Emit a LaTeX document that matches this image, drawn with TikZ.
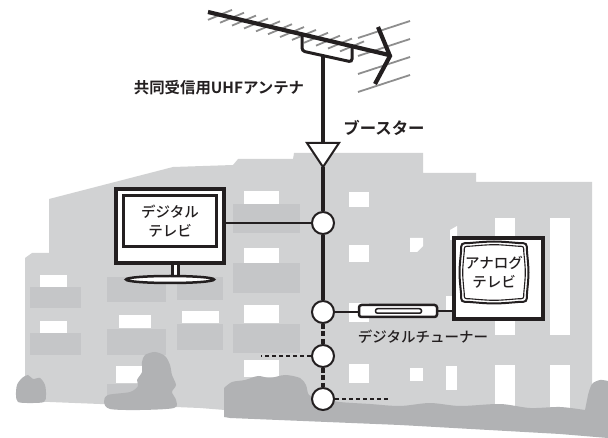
\documentclass[tikz,border=0pt]{standalone}
\usepackage{fontspec}
\newfontfamily\jp{Noto Sans CJK JP Medium}
\newfontfamily\jpb{Noto Sans CJK JP Bold}
\definecolor{ink}{HTML}{231F20}
\definecolor{bldg}{HTML}{D1D2D3}
\definecolor{balc}{HTML}{C5C6C8}
\definecolor{bush}{HTML}{B1B2B4}
\definecolor{rod}{HTML}{8E8E8E}

\begin{document}
\begin{tikzpicture}
  [x=1pt,y=-1pt,every node/.style={inner sep=0pt,text=ink},
   joint/.style={circle,draw=ink,fill=white,line width=2pt,minimum size=22pt},
   tvbox/.style={rectangle,draw=ink,fill=white,line width=3.6pt},
   screen/.style={rectangle,draw=ink,fill=white,line width=3pt,align=center,
     font=\jp\fontsize{14.5}{19}\selectfont},
   tunerbox/.style={rectangle,rounded corners=2.5pt,draw=ink,fill=white,line width=2.5pt},
   tag/.style={font=\jpb\fontsize{15.4}{17}\selectfont},
   caption/.style={font=\jp\fontsize{14.5}{19}\selectfont,align=center},
   cable/.style={draw=ink,line width=4.2pt},
   feeder/.style={draw=ink,line width=2.6pt},
   riser/.style={draw=ink,line width=3.8pt,dash pattern=on 5pt off 2.5pt},
   branch/.style={draw=ink,line width=2pt,dash pattern=on 4pt off 3pt},
   rodline/.style={draw=rod,line width=1.8pt}]
  \useasboundingbox (0,0) rectangle (608,438);

  % buildings
  \fill[bldg] (25,401) -- (25,258) -- (32,253) -- (49,253) -- (49,199) -- (173,167)
    -- (233,165) -- (238,159) -- (293,159) -- (294,153) -- (423,153) -- (423,173)
    -- (476,173) -- (476,182) -- (592,182) -- (592,432) -- (400,424) -- (200,408) -- cycle;
  \foreach \a/\b/\c/\d in {30/287/81/308,30/333/81/355,107/277/166/302,107/329/166/355,
      107/384/143/397,177/277/223/300,177/324/223/350,233/204/300/233,233/263/300/293,
      233/324/300/353}
    \fill[balc] (\a,\b) rectangle (\c,\d);
  \foreach \a/\b/\c/\d in {40/275/67/287,40/321/67/333,119/315/151/328,116/366/143/383,
      182/311/219/323,244/191/279/204,244/248/279/263,244/305/279/323,244/360/279/377,
      349/192/369/207,349/245/369/262,349/303/369/322,349/364/369/383,410/368/423/381,
      446/366/457/390,446/296/457/312,495/218/515/335,495/365/515/409,550/218/570/335,
      550/365/570/409}
    \fill[white] (\a,\b) rectangle (\c,\d);
  \fill[white] (410,238) -- (423,238) -- (423,246) -- (417,252) -- (410,252) -- cycle;
  \fill[white] (450,230) -- (457,226) -- (457,240) -- (450,240) -- cycle;

  % trees and hedge
  \fill[bush] plot[smooth cycle] coordinates {(16,395) (17,385) (22,378) (28,375) (33,379)
    (40,378) (45,385) (46,395) (44,402) (30,403) (18,402)};
  \fill[bush] plot[smooth cycle] coordinates {(145,355) (155,352) (165,356) (170,365)
    (172,375) (176,385) (172,392) (176,400) (174,408) (140,410) (110,409) (104,402)
    (108,395) (130,392) (138,386) (137,380) (142,372) (142,362)};
  \fill[bush] (224,417) -- plot[smooth] coordinates {(224,388) (232,382) (245,380)
    (258,376) (270,378) (285,375) (300,378) (306,385) (309,395) (320,398) (340,402)
    (370,404) (400,406) (430,403) (460,406) (500,404) (530,408) (560,407) (585,410)}
    -- plot[smooth] coordinates {(588,395) (592,384) (600,380) (608,381)}
    -- (608,438) -- (560,434) -- (400,425) -- (230,418) -- cycle;

  % antenna
  \foreach \k in {0,...,3}
    \draw[rodline] (358,38+18*\k) -- (410,21+18*\k);
  \foreach \i in {0,...,11}{
    \pgfmathsetmacro\cx{220+12*\i}
    \pgfmathsetmacro\cy{12+(\cx-208)*0.2389}
    \draw[rodline] (\cx-12,\cy+5) -- (\cx+12,\cy-5);
  }
  \draw[ink,line width=4.2pt] (208,12) -- (389,55);
  \draw[ink,line width=4.2pt,line join=miter] (378,27) -- (390,56) -- (375,84);
  \draw[ink,line width=3pt,rounded corners=3pt] (302,35) -- (302,51) -- (352,62) -- (352,47);

  \coordinate (mast) at (323,57);
  \coordinate (ampin) at (323,143);
  \coordinate (ampout) at (323,167);
  \coordinate (end3) at (261,356);
  \coordinate (end4) at (388,399);

  \node[tag] (antlbl) at (219,88) {共同受信用UHFアンテナ};
  \node[tag,font=\jpb\fontsize{16.4}{18}\selectfont] (amplbl) at (384,128) {ブースター};

  \node[joint] (s1) at (323,223) {};
  \node[joint] (s2) at (323,312) {};
  \node[joint] (s3) at (323,356) {};
  \node[joint] (s4) at (323,399) {};

  % digital set
  \filldraw[draw=ink,fill=white,line width=2.5pt] (172.5,262) rectangle (178.5,277);
  \node[tvbox,minimum width=108pt,minimum height=74pt] (dtv) at (170,226) {};
  \node[screen,minimum width=93pt,minimum height=51pt] (dscr) at (170,221) {デジタル\\テレビ};
  \filldraw[draw=ink,fill=white,line width=2.5pt] (170,279.5) ellipse [x radius=44pt,y radius=3.5pt];

  % analogue set with tuner
  \node[tvbox,minimum width=89pt,minimum height=81pt] (atv) at (498.5,278.5) {};
  \foreach \d/\w in {0/2pt,3.2/1.1pt}
    \draw[ink,line width=\w] (470,243+\d) .. controls (494,241+\d) .. (518,243+\d)
      .. controls (527-\d,243+\d) .. (527-\d,252) .. controls (529-\d,272.5) .. (527-\d,293)
      .. controls (527-\d,302-\d) .. (518,302-\d) .. controls (494,304-\d) .. (470,302-\d)
      .. controls (461+\d,302-\d) .. (461+\d,293) .. controls (459+\d,272.5) .. (461+\d,252)
      .. controls (461+\d,243+\d) .. (470,243+\d) -- cycle;
  \node[caption] (ascr) at (494,272.5) {アナログ\\テレビ};
  \node[tunerbox,minimum width=78pt,minimum height=12pt] (tuner) at (398,311) {};
  \node[tunerbox,line width=1.5pt,rounded corners=2pt,minimum width=46pt,minimum height=4.5pt] (slot) at (398.5,311) {};
  \node[caption] (tunlbl) at (423,337) {デジタルチューナー};

  \draw[ink,line width=4.2pt] (mast) -- (ampin);
  \filldraw[draw=ink,fill=white,line width=2pt,line join=miter] (307,143) -- (339,143) -- (ampout) -- cycle;

\path [cable]
(ampout) edge (s1)
(s1) edge (s2)
;
\path [feeder]
(s1) edge (dtv.east |- s1)
(s2) edge (s2 -| tuner.west)
(tuner.east) edge (tuner.east -| atv.west)
;
\path [riser]
(s2) edge (s3)
(s3) edge (s4)
;
\path [branch]
(s3) edge (end3)
(s4) edge (end4)
;
\end{tikzpicture}
\end{document}
